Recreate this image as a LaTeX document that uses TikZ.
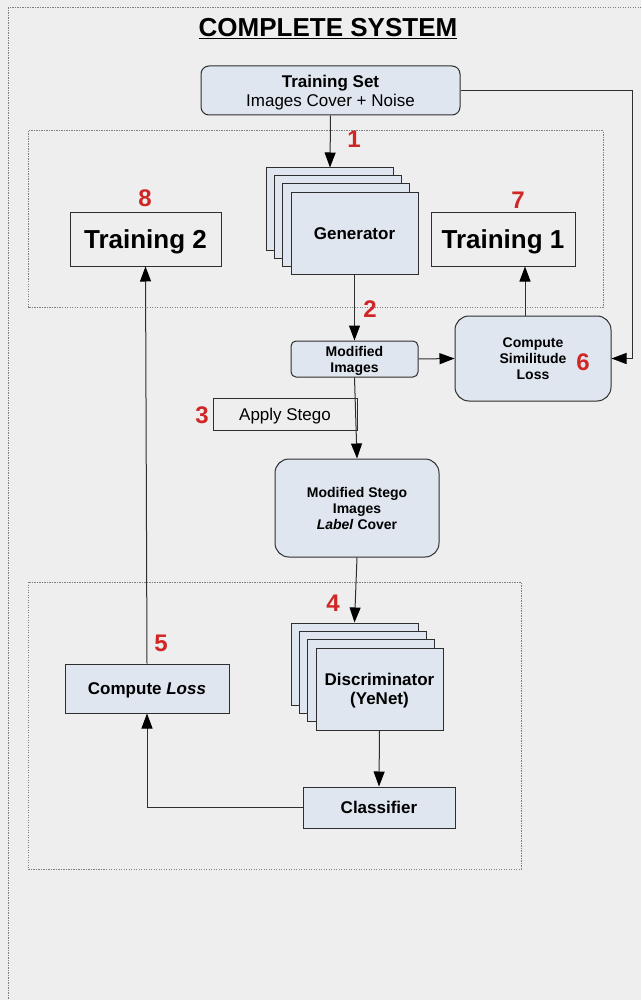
\documentclass[tikz,border=0pt]{standalone}
\usepackage{xcolor}
\usepackage{fontspec}
\setmainfont{Liberation Sans}
\usepackage{tikz}
\usetikzlibrary{positioning,arrows.meta}

\definecolor{bgGray}{HTML}{EEEEEE}
\definecolor{boxFill}{HTML}{DFE6EF}
\definecolor{lineGray}{HTML}{2E2E2E}
\definecolor{numRed}{HTML}{D02626}

\begin{document}
\begin{tikzpicture}[
    x=1pt, y=-1pt,
    every node/.style={font=\fontsize{17}{19}\selectfont, inner sep=0pt, text depth=0pt},
    roundBlock/.style={rectangle, draw=lineGray, fill=boxFill, line width=1pt, rounded corners=8pt, align=center},
    flatBlock/.style={rectangle, draw=lineGray, fill=boxFill, line width=1pt, align=center},
    openBlock/.style={rectangle, draw=lineGray, line width=1pt, align=center},
    stackBlock/.style={rectangle, draw=lineGray, fill=boxFill, line width=1pt, minimum width=127pt, minimum height=82pt, align=center},
    stepNum/.style={text=numRed, font=\fontsize{24}{24}\selectfont\bfseries},
    flow/.style={-{Triangle[length=15pt,width=11pt,color=black,fill=black]}, draw=lineGray, line width=1pt},
    groupFrame/.style={draw=gray, line width=1pt, dash pattern=on 1.2pt off 1.3pt}
]

% Background and frames
\fill[bgGray] (0,0) rectangle (641,1000);
\useasboundingbox (0,0) rectangle (641,1000);
\draw[groupFrame] (8,1001) -- (8,8) -- (642,8);
\draw[groupFrame] (28,131) rectangle (603,307);
\draw[groupFrame] (28,582) rectangle (521,869);

% Title
\node[anchor=base, font=\fontsize{26}{28}\selectfont\bfseries] (title) at (328,37) {\underline{COMPLETE SYSTEM}};

% Nodes
\node[roundBlock, minimum width=259pt, minimum height=49pt] (tset) at (330.5,90.5) {\textbf{Training Set}\\Images Cover + Noise};

\node[stackBlock] (gen3) at (330,209) {};
\node[stackBlock] (gen2) at (338,217) {};
\node[stackBlock] (gen1) at (346,225) {};
\node[stackBlock, font=\fontsize{17}{19}\selectfont\bfseries] (gen) at (354.5,233.5) {Generator};

\node[openBlock, minimum width=151pt, minimum height=53pt, font=\fontsize{26}{28}\selectfont\bfseries] (t2) at (145.5,239.5) {Training 2};
\node[openBlock, minimum width=144pt, minimum height=53pt, font=\fontsize{26}{28}\selectfont\bfseries] (t1) at (503,239.5) {Training 1};

\node[roundBlock, rounded corners=5pt, minimum width=127pt, minimum height=36pt, font=\fontsize{14}{16}\selectfont\bfseries] (modimg) at (354.5,359) {Modified\\Images};
\node[roundBlock, rounded corners=14pt, minimum width=156pt, minimum height=85pt, font=\fontsize{14}{16}\selectfont\bfseries] (csl) at (533,358.5) {Compute\\Similitude\\Loss};

\node[openBlock, minimum width=144pt, minimum height=32pt] (stego) at (285,414) {Apply Stego};
\node[roundBlock, rounded corners=14pt, minimum width=164pt, minimum height=98pt, font=\fontsize{14}{16}\selectfont\bfseries] (mstego) at (357,508) {Modified Stego\\Images\\\textit{Label} Cover};

\node[stackBlock] (disc3) at (354.5,664) {};
\node[stackBlock] (disc2) at (363,672) {};
\node[stackBlock] (disc1) at (371,680) {};
\node[stackBlock, font=\fontsize{17}{19}\selectfont\bfseries] (disc) at (379.5,689) {Discriminator\\(YeNet)};

\node[flatBlock, minimum width=152pt, minimum height=41pt, font=\fontsize{17}{19}\selectfont\bfseries] (cls) at (379,807.5) {Classifier};
\node[flatBlock, minimum width=164pt, minimum height=49pt, font=\fontsize{17}{19}\selectfont\bfseries] (closs) at (147,688.5) {Compute \textit{Loss}};

\coordinate (rturn) at (632,358.5);

% Edges
\draw[flow] (tset.south) -- (gen3.north);
\draw[flow] (gen.south) -- (modimg.north);
\draw[flow] (modimg.east) -- (csl.west);
\draw[flow] (tset.east) -| (rturn) -- (csl.east);
\draw[flow] ([xshift=-8pt]csl.north) -- ([xshift=-8pt]csl.north |- t1.south);
\draw[flow] (modimg.south) -- (mstego.north);
\draw[flow] (mstego.south) -- (disc3.north);
\draw[flow] (disc.south) -- (cls.north);
\draw[flow] (cls.west) -| (closs.south);
\draw[flow] (closs.north) -- (t2.south);

% Labels
\node[stepNum] (n1) at (354,139) {1};
\node[stepNum] (n2) at (370,309) {2};
\node[stepNum] (n3) at (202,415) {3};
\node[stepNum] (n4) at (333,603) {4};
\node[stepNum] (n5) at (161,643) {5};
\node[stepNum] (n6) at (583,362) {6};
\node[stepNum] (n7) at (518,200) {7};
\node[stepNum] (n8) at (145,198) {8};

\end{tikzpicture}
\end{document}
